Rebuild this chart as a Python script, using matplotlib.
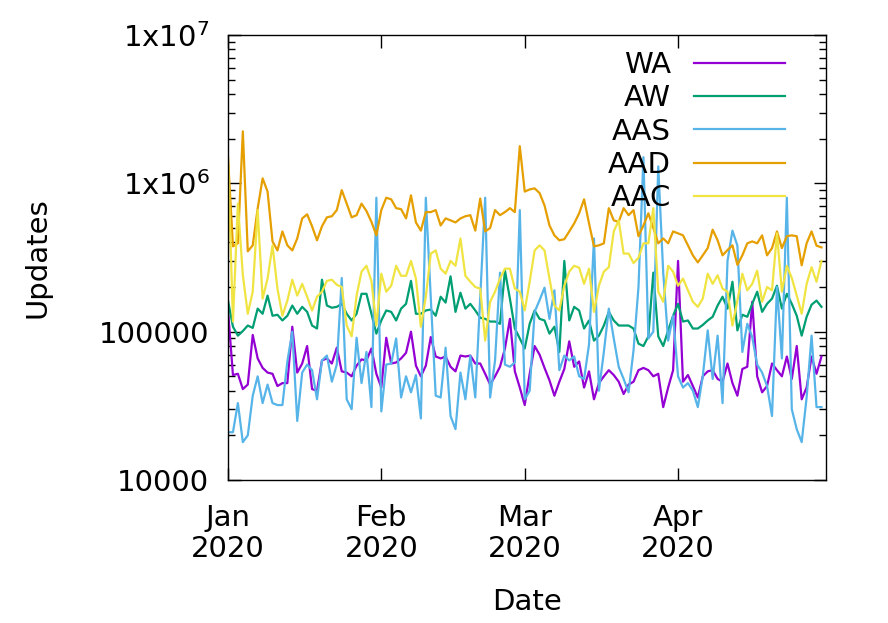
import numpy as np
import pandas as pd
import matplotlib
matplotlib.use("Agg")
import matplotlib.pyplot as plt
import matplotlib.dates as mdates
from matplotlib.ticker import LogLocator, FixedLocator, NullFormatter

plt.rcParams['font.family'] = ['DejaVu Sans']
plt.rcParams['mathtext.default'] = 'regular'

dates = pd.date_range('2020-01-01', '2020-04-30', freq='D')

# daily values, in thousands
wa = [140, 51, 52, 41, 44, 95, 66, 57, 53, 52,
      43, 45, 45, 108, 53, 61, 80, 41, 40, 64,
      66, 61, 78, 54, 53, 50, 59, 65, 64, 77,
      52, 42, 91, 61, 62, 66, 72, 100, 59, 50,
      59, 92, 68, 66, 68, 58, 54, 69, 68, 69,
      61, 61, 52, 44, 50, 58, 77, 122, 54, 42,
      32, 52, 80, 70, 57, 47, 37, 46, 56, 86,
      58, 63, 42, 54, 35, 45, 50, 55, 51, 46,
      38, 44, 46, 55, 57, 55, 50, 52, 31, 42,
      55, 300, 46, 51, 43, 36, 50, 54, 55, 48,
      46, 61, 45, 37, 56, 58, 159, 50, 39, 43,
      61, 55, 50, 68, 48, 80, 35, 42, 68, 52,
      68]
aw = [162, 108, 94, 101, 110, 106, 143, 132, 175, 128,
      130, 119, 128, 150, 132, 147, 136, 110, 105, 224,
      150, 145, 147, 154, 132, 119, 132, 180, 180, 132,
      97, 119, 139, 136, 119, 143, 154, 220, 132, 132,
      139, 141, 128, 172, 157, 236, 136, 183, 143, 154,
      139, 124, 122, 117, 117, 113, 258, 167, 105, 90,
      77, 113, 139, 122, 119, 97, 108, 73, 300, 119,
      147, 139, 105, 119, 87, 94, 110, 136, 119, 110,
      110, 110, 105, 83, 80, 93, 250, 93, 80, 102,
      128, 154, 117, 119, 105, 105, 111, 119, 126, 150,
      172, 143, 217, 102, 130, 126, 154, 186, 136, 154,
      167, 204, 143, 180, 154, 128, 94, 126, 152, 162,
      147]
aas = [21, 21, 33, 18, 20, 37, 50, 33, 44, 33,
       32, 32, 63, 100, 25, 53, 60, 55, 35, 64,
       69, 46, 60, 230, 35, 30, 91, 45, 73, 31,
       800, 29, 60, 61, 90, 36, 50, 39, 51, 26,
       800, 170, 37, 36, 78, 27, 22, 53, 35, 69,
       36, 170, 800, 36, 64, 250, 60, 58, 62, 660,
       35, 40, 136, 163, 198, 122, 190, 55, 69, 64,
       68, 50, 48, 82, 425, 40, 73, 143, 90, 58,
       48, 39, 75, 200, 1500, 90, 100, 1300, 250, 87,
       128, 50, 42, 45, 40, 31, 50, 102, 48, 94,
       33, 300, 480, 380, 73, 113, 92, 60, 53, 43,
       27, 200, 66, 800, 30, 22, 18, 36, 94, 31,
       31]
aad = [1500, 376, 394, 2240, 348, 382, 678, 1080, 880, 406,
       353, 474, 382, 353, 425, 580, 618, 513, 413, 513,
       590, 600, 660, 900, 730, 590, 610, 730, 650, 550,
       446, 660, 800, 780, 680, 670, 580, 830, 545, 480,
       640, 640, 660, 520, 580, 563, 545, 580, 600, 610,
       480, 790, 474, 500, 660, 610, 640, 680, 640, 1780,
       880, 910, 925, 860, 710, 520, 446, 413, 420, 474,
       537, 628, 780, 537, 376, 382, 394, 680, 563, 550,
       680, 610, 660, 440, 520, 628, 500, 394, 425, 394,
       474, 460, 446, 382, 327, 293, 327, 366, 487, 413,
       327, 355, 382, 282, 327, 394, 406, 394, 446, 327,
       366, 474, 366, 440, 446, 440, 280, 394, 474, 380,
       370]
aac = [1500, 117, 730, 240, 132, 186, 660, 167, 228, 382,
       195, 128, 162, 224, 175, 210, 172, 139, 172, 186,
       220, 224, 207, 200, 110, 93, 175, 254, 278, 220,
       110, 246, 186, 204, 278, 238, 238, 300, 228, 108,
       172, 336, 353, 266, 246, 300, 278, 425, 238, 217,
       200, 195, 87, 159, 186, 228, 266, 266, 195, 186,
       139, 217, 353, 382, 353, 228, 150, 139, 204, 254,
       278, 270, 210, 266, 136, 204, 254, 272, 474, 563,
       336, 336, 290, 315, 394, 394, 680, 186, 159, 278,
       254, 204, 228, 190, 159, 147, 167, 246, 210, 240,
       195, 186, 110, 162, 246, 190, 210, 258, 159, 200,
       190, 460, 186, 278, 230, 175, 132, 210, 272, 217,
       300]

series = [("WA", wa, "#9400d3"), ("AW", aw, "#009e73"), ("AAS", aas, "#56b4e9"),
          ("AAD", aad, "#e69f00"), ("AAC", aac, "#f0e442")]

fig = plt.figure(figsize=(8.88, 6.23), dpi=100)
ax = fig.add_axes([228 / 888, 1 - 480 / 623, 598 / 888, 445 / 623])

for name, vals, col in series:
    ax.plot(dates, np.array(vals) * 1000, color=col, lw=1.6, label=name)

ax.set_yscale('log')
ax.set_ylim(1e4, 1e7)
ax.set_xlim(pd.Timestamp('2020-01-01'), pd.Timestamp('2020-04-30 22:00'))

ax.yaxis.set_major_locator(FixedLocator([1e4, 1e5, 1e6, 1e7]))
ax.set_yticklabels(['10000', '100000', '1x10$^{6}$', '1x10$^{7}$'])
ax.yaxis.set_minor_locator(LogLocator(base=10, subs=np.arange(2, 10)))
ax.yaxis.set_minor_formatter(NullFormatter())

ax.xaxis.set_major_locator(mdates.MonthLocator(bymonth=[1, 2, 3, 4]))
ax.xaxis.set_major_formatter(mdates.DateFormatter('%b\n%Y'))
ax.xaxis.set_minor_locator(FixedLocator([]))

ax.tick_params(which='both', direction='in', top=True, right=True,
               labelsize=21, width=1, color='black')
ax.tick_params(which='major', length=9)
ax.tick_params(which='minor', length=5)
ax.tick_params(axis='y', pad=13.5)
ax.tick_params(axis='x', pad=17)
for lab in ax.get_xticklabels():
    lab.set_linespacing(1.15)

for sp in ax.spines.values():
    sp.set_linewidth(1)

ax.set_ylabel('Updates', fontsize=21, labelpad=34)
ax.set_xlabel('Date', fontsize=21, labelpad=18)

ax.legend(loc='upper right', bbox_to_anchor=(0.931, 0.964), frameon=False,
          markerfirst=False, fontsize=21, handlelength=3.1, handletextpad=0.8,
          labelspacing=0.18, borderpad=0, borderaxespad=0)

fig.savefig('out.png', dpi=100)
